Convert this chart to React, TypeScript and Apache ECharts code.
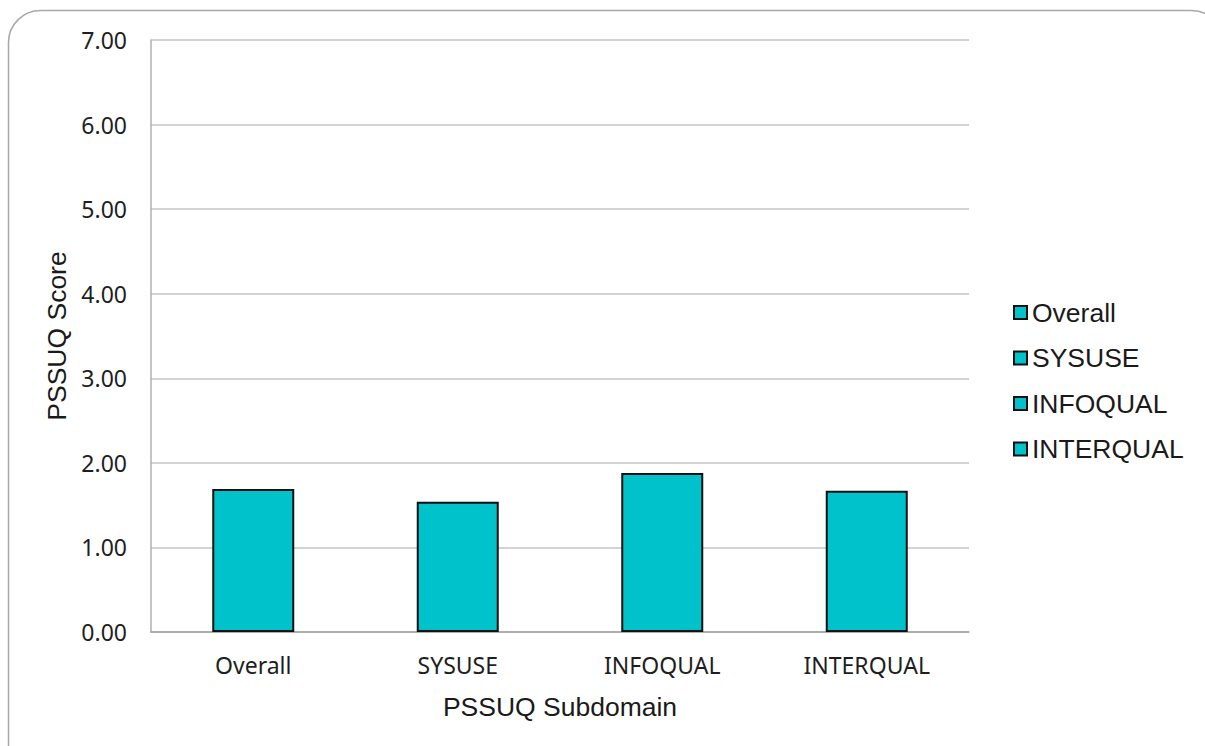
import React, { useEffect, useRef } from "react";
import * as echarts from "echarts";

const categories = ["Overall", "SYSUSE", "INFOQUAL", "INTERQUAL"];
const scores = [1.69, 1.54, 1.88, 1.67];
const yTicks = { min: 0, max: 7, interval: 1 };

export default function App() {
  const ref = useRef<HTMLDivElement>(null);
  useEffect(() => {
    if (!ref.current) return;
    const chart = echarts.init(ref.current, null, { renderer: "svg" });
    const color = "#00C2CA";
    const series = categories.map((name, i) => ({
      name,
      type: "bar",
      stack: "all",
      barWidth: 82,
      data: categories.map((_, j) => (j === i ? scores[i] : null)),
      itemStyle: { color, borderColor: "#111", borderWidth: 2 },
    }));
    chart.setOption({
      animation: false,
      backgroundColor: "#fff",
      graphic: [
        {
          type: "rect",
          shape: { x: 8.5, y: 10.5, width: 1215, height: 770, r: 32 },
          style: { fill: "none", stroke: "#a8a8a8", lineWidth: 1.5 },
          silent: true,
          z: -10,
        },
      ],
      grid: { left: 151, top: 40, right: 236, bottom: 114 },
      legend: {
        orient: "vertical",
        left: 1008,
        top: 294,
        itemWidth: 13,
        itemHeight: 13,
        itemGap: 18.5,
        icon: "rect",
        textStyle: {
          fontFamily: "Liberation Sans, Arial",
          fontSize: 26.5,
          color: "#1a1a1a",
          lineHeight: 26,
          padding: [0, 0, 0, 0],
        },
        data: categories,
      },
      xAxis: {
        type: "category",
        data: categories,
        name: "PSSUQ Subdomain",
        nameLocation: "middle",
        nameGap: 61,
        nameTextStyle: {
          fontFamily: "Liberation Sans, Arial",
          fontSize: 26.5,
          color: "#1a1a1a",
        },
        axisLine: { lineStyle: { color: "#a0a0a0", width: 1.5 } },
        axisTick: { show: false },
        axisLabel: {
          fontFamily: "Noto Sans",
          fontSize: 23,
          color: "#1e1e1e",
          margin: 21,
        },
      },
      yAxis: {
        type: "value",
        min: yTicks.min,
        max: yTicks.max,
        interval: yTicks.interval,
        name: "PSSUQ Score",
        nameLocation: "middle",
        nameGap: 81,
        nameTextStyle: {
          fontFamily: "Liberation Sans, Arial",
          fontSize: 26.5,
          color: "#1a1a1a",
        },
        axisLine: { show: true, lineStyle: { color: "#b0b0b0", width: 1.5 } },
        axisTick: { show: false },
        splitLine: { lineStyle: { color: "#c4c4c4", width: 1.5 } },
        axisLabel: {
          fontFamily: "Noto Sans",
          fontSize: 23,
          color: "#1e1e1e",
          margin: 24,
          formatter: (v: number) => v.toFixed(2),
        },
      },
      series,
    });
    return () => chart.dispose();
  }, []);
  return (
    <div
      ref={ref}
      style={{ position: "fixed", left: 0, top: 0, width: 1205, height: 746 }}
    />
  );
}
